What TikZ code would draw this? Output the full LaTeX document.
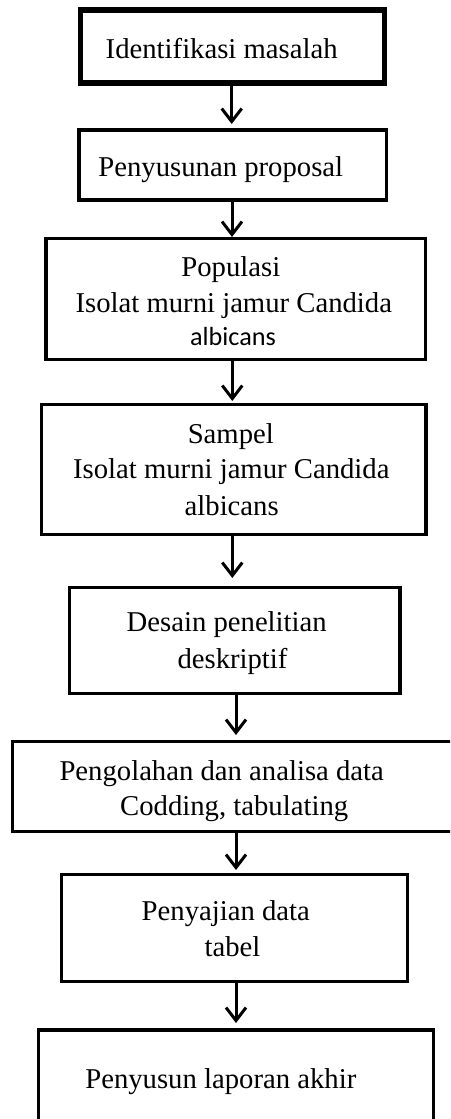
\documentclass[tikz,border=0pt]{standalone}
\usepackage{fontspec}
\setmainfont{Liberation Serif}
\newfontfamily\calfont{Carlito}
\usetikzlibrary{arrows.meta}
\begin{document}
\begin{tikzpicture}[x=1pt,y=-1pt,
  boxline/.style={draw=black,line width=3.3pt},
  thickbox/.style={draw=black,line width=5.5pt},
  lbl/.style={anchor=base,inner sep=0pt,font=\fontsize{28.7}{35}\selectfont},
  lblsans/.style={anchor=base,inner sep=0pt,font=\calfont\fontsize{26.2}{32}\selectfont},
  arr/.style={draw=black,line width=3pt,-{Straight Barb[length=13pt,width=20pt,line width=3pt]}}]
\useasboundingbox (0,0) rectangle (450,1119);
\clip (0,0) rectangle (450,1119);
% boxes
\draw[thickbox] (80.5,10) rectangle (384.5,83);
\node[inner sep=0pt,minimum width=304pt,minimum height=73pt] (b1) at (232.5,46.5) {};
\draw[boxline] (79,130) rectangle (386.5,200);
\node[inner sep=0pt,minimum width=307.5pt,minimum height=70pt] (b2) at (232.75,165) {};
\draw[boxline] (46,238.7) rectangle (425.5,359.3);
\node[inner sep=0pt,minimum width=379.5pt,minimum height=120.6pt] (b3) at (235.75,299) {};
\draw[boxline] (41.7,404.3) rectangle (426,534.3);
\node[inner sep=0pt,minimum width=384.3pt,minimum height=130pt] (b4) at (233.85,469.3) {};
\draw[boxline] (69.3,587.3) rectangle (400,693.3);
\node[inner sep=0pt,minimum width=330.7pt,minimum height=106pt] (b5) at (234.65,640.3) {};
\draw[boxline] (12.7,741.7) rectangle (470,831.5);
\node[inner sep=0pt,minimum width=457.3pt,minimum height=89.8pt] (b6) at (241.35,786.6) {};
\draw[boxline] (61.7,874.3) rectangle (407.7,981.7);
\node[inner sep=0pt,minimum width=346pt,minimum height=107.4pt] (b7) at (234.7,928) {};
\draw[boxline] (38.3,1030) rectangle (433.3,1140);
\node[inner sep=0pt,minimum width=395pt,minimum height=110pt] (b8) at (235.8,1085) {};
% texts
\node[lbl] (t1) at (221.7,58.3) {Identifikasi masalah};
\node[lbl] (t2) at (220.8,176.7) {Penyusunan proposal};
\node[lbl] (t3a) at (230.8,276.7) {Populasi};
\node[lbl] (t3b) at (233.8,312.7) {Isolat murni jamur Candida};
\node[lblsans] (t3c) at (233,345) {albicans};
\node[lbl] (t4a) at (230.8,443.3) {Sampel};
\node[lbl] (t4b) at (231.3,478.3) {Isolat murni jamur Candida};
\node[lbl] (t4c) at (231.7,515) {albicans};
\node[lbl] (t5a) at (226.7,631.7) {Desain penelitian};
\node[lbl] (t5b) at (232.5,668.3) {deskriptif};
\node[lbl] (t6a) at (221.7,780) {Pengolahan dan analisa data};
\node[lbl] (t6b) at (234.2,815.7) {Codding, tabulating};
\node[lbl] (t7a) at (225.8,920.7) {Penyajian data};
\node[lbl] (t7b) at (232.5,956.7) {tabel};
\node[lbl] (t8) at (220.8,1088.3) {Penyusun laporan akhir};
% arrow tips
\coordinate (p1) at (231.7,124);
\coordinate (p2) at (232,237);
\coordinate (p3) at (232.3,401);
\coordinate (p4) at (232.3,578);
\coordinate (p5) at (236,735);
\coordinate (p6) at (236,870);
\coordinate (p7) at (236,1023);
\draw[arr] (p1 |- b1.south) -- (p1);
\draw[arr] (p2 |- b2.south) -- (p2);
\draw[arr] (p3 |- b3.south) -- (p3);
\draw[arr] (p4 |- b4.south) -- (p4);
\draw[arr] (p5 |- b5.south) -- (p5);
\draw[arr] (p6 |- b6.south) -- (p6);
\draw[arr] (p7 |- b7.south) -- (p7);
\end{tikzpicture}
\end{document}
